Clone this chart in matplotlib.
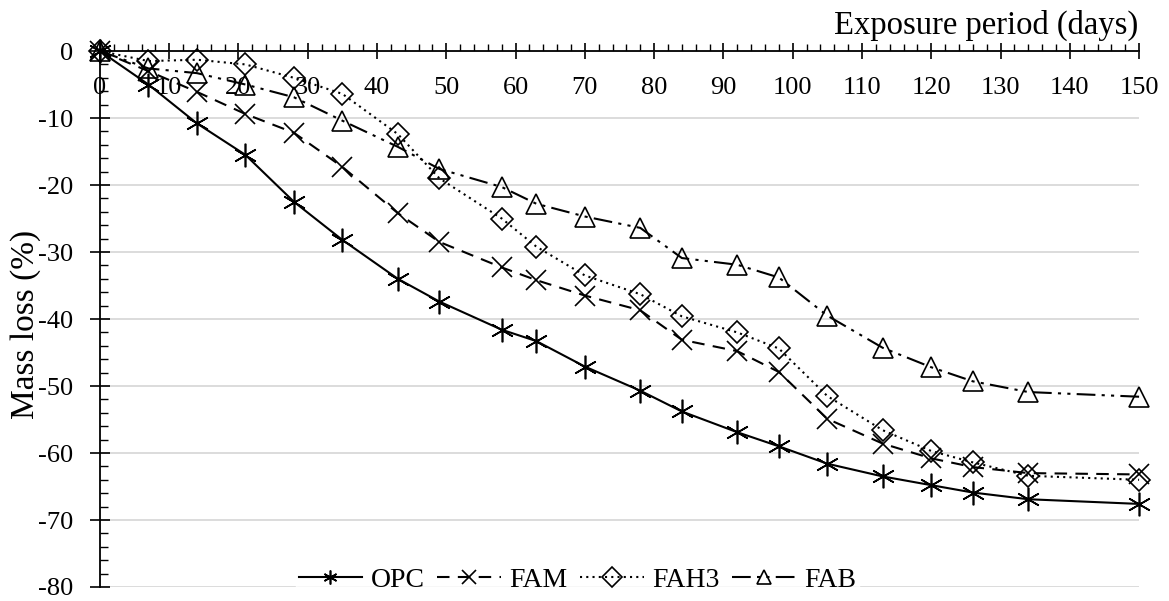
import numpy as np
import matplotlib
matplotlib.use("Agg")
import matplotlib.pyplot as plt
from matplotlib.ticker import MultipleLocator

plt.rcParams["font.family"] = ["Liberation Serif", "DejaVu Serif"]
plt.rcParams["axes.unicode_minus"] = False

days = [0, 7, 14, 21, 28, 35, 43, 49, 58, 63, 70, 78, 84, 92, 98, 105, 113, 120, 126, 134, 150]

opc = [0, -5.0, -10.8, -15.5, -22.5, -28.2, -34.0, -37.4, -41.6, -43.3, -47.1, -50.7,
       -53.8, -56.9, -59.0, -61.6, -63.5, -64.8, -65.9, -66.9, -67.6]
fam = [0, -3.0, -6.1, -9.4, -12.2, -17.3, -24.2, -28.5, -32.3, -34.2, -36.5, -38.7,
       -43.1, -44.8, -47.9, -54.9, -58.6, -60.8, -62.1, -63.0, -63.2]
fah3 = [0, -1.5, -1.3, -2.0, -4.0, -6.4, -12.4, -19.0, -25.0, -29.2, -33.5, -36.3,
        -39.6, -42.0, -44.4, -51.5, -56.6, -59.7, -61.4, -63.4, -64.0]
fab = [0, -2.6, -3.3, -5.0, -6.9, -10.4, -14.3, -17.6, -20.3, -22.8, -24.7, -26.4,
       -30.9, -31.9, -33.8, -39.5, -44.3, -47.2, -49.3, -50.9, -51.6]

series = [
    ("OPC", opc, "-", (6, 2, 0), 17),
    ("FAM", fam, (0, (6, 4)), "x", 14),
    ("FAH3", fah3, (0, (1, 2)), "D", 11),
    ("FAB", fab, (0, (9, 3, 1.5, 3, 1.5, 3)), "^", 14),
]

fig = plt.figure(figsize=(11.69, 6.01), dpi=100)
ax = fig.add_axes([0.0855, 0.0233, 0.8889, 0.8918])

handles = []
for name, vals, ls, mk, ms in series:
    h, = ax.plot(days, vals, color="black", linestyle=ls, linewidth=1.5,
                 marker=mk, markersize=ms, markerfacecolor="none",
                 markeredgecolor="black", markeredgewidth=1.2, label=name,
                 clip_on=False, zorder=3)
    handles.append(h)

ax.set_xlim(0, 150)
ax.set_ylim(-80, 0)

ax.spines["top"].set_visible(False)
ax.spines["right"].set_visible(False)
ax.spines["bottom"].set_position(("data", 0))
ax.spines["bottom"].set_linewidth(1.3)
ax.spines["left"].set_linewidth(1.3)

ax.xaxis.set_major_locator(MultipleLocator(10))
ax.xaxis.set_minor_locator(MultipleLocator(2))
ax.yaxis.set_major_locator(MultipleLocator(10))
ax.yaxis.set_minor_locator(MultipleLocator(2))

ax.tick_params(axis="x", which="major", direction="inout", length=11, width=1.2,
               labelsize=19, pad=13)
ax.tick_params(axis="x", which="minor", direction="in", length=5, width=1.0)
ax.tick_params(axis="y", which="major", direction="inout", length=14, width=1.2,
               labelsize=19, pad=12)
ax.tick_params(axis="y", which="minor", direction="in", length=6, width=1.0)

ax.yaxis.grid(True, which="major", color="#d9d9d9", linewidth=1.3, zorder=0)
ax.set_axisbelow(True)

ax.set_ylabel("Mass loss (%)", fontsize=24, va="center")
ax.yaxis.set_label_coords(-0.072, 0.489)
fig.text(0.974, 0.958, "Exposure period (days)", ha="right", va="center", fontsize=23.5)

leg = fig.legend(handles=handles, loc="center", bbox_to_anchor=(0.494, 0.035),
                 ncol=4, frameon=True, fontsize=20, handlelength=2.3,
                 columnspacing=0.45, handletextpad=0.3, borderpad=0.1)
leg.get_frame().set_facecolor("white")
leg.get_frame().set_edgecolor("white")
for lh in leg.legend_handles:
    lh.set_markersize(10)

fig.savefig("out.png", dpi=100)
